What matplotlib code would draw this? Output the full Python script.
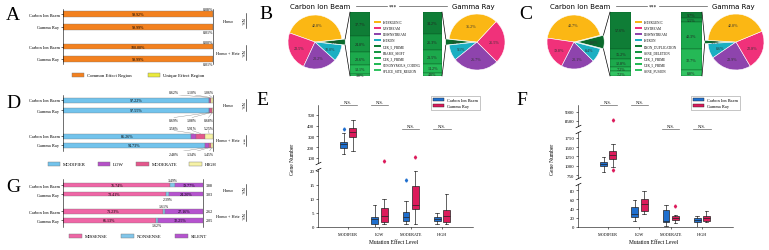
import numpy as np
import matplotlib
matplotlib.use("Agg")
from matplotlib import pyplot as plt
from matplotlib.patches import ConnectionPatch, Patch
from matplotlib.lines import Line2D
from matplotlib.transforms import blended_transform_factory

W, H = 769, 251
plt.rcParams['font.family'] = ['Liberation Serif', 'DejaVu Serif']
plt.rcParams['axes.linewidth'] = 0.4

# ---------------- data ----------------
groups = ['Carbon Ion Beam', 'Gamma Ray', 'Carbon Ion Beam', 'Gamma Ray']
group_names = ['Homo', 'Homo + Hete']

# A: effect regions (%)
region_names = ['Common Effect Region', 'Unique Effect Region']
region_common = [99.92, 99.99, 100.00, 99.99]
region_unique = [0.08, 0.01, 0.00, 0.01]
region_sig = ['N.S.', 'N.S.']

# D: impact level (%)
impact_names = ['MODIFIER', 'LOW', 'MODERATE', 'HIGH']
impact_modifier = [97.22, 97.55, 85.26, 94.73]
impact_low = [0.62, 0.69, 3.58, 2.48]
impact_moderate = [1.10, 1.08, 5.91, 1.34]
impact_high = [1.06, 0.68, 5.25, 1.45]
impact_sig = ['N.S.', '***']

# G: functional class (%)
func_names = ['MISSENSE', 'NONSENSE', 'SILENT']
func_missense = [76.74, 73.41, 71.23, 66.13]
func_nonsense = [3.49, 2.39, 1.61, 1.62]
func_silent = [19.77, 24.20, 27.16, 32.25]
func_sig = ['N.S.', 'N.S.']

# B / C: pies (INTERGENIC, UPSTREAM, DOWNSTREAM, INTRON, others)
pie_names = ['INTERGENIC', 'UPSTREAM', 'DOWNSTREAM', 'INTRON']
b_carbon_pie = [42.8, 23.5, 20.2, 10.0, 3.5]
b_gamma_pie = [35.2, 25.5, 26.7, 9.1, 3.5]
b_other_names = ['UTR_5_PRIME', 'FRAME_SHIFT', 'UTR_3_PRIME', 'SYNONYMOUS_CODING', 'SPLICE_SITE_REGION']
b_carbon_other = [37.7, 24.8, 20.6, 13.1, 3.8]
b_gamma_other = [34.2, 25.3, 21.5, 14.2, 4.8]

c_carbon_pie = [43.7, 19.8, 20.1, 8.4, 8.0]
c_gamma_pie = [42.8, 22.8, 23.9, 8.6, 1.9]
c_other_names = ['EXON_DUPLICATION', 'GENE_DELETION', 'UTR_3_PRIME', 'UTR_5_PRIME', 'GENE_FUSION']
c_carbon_other = [57.6, 15.2, 12.8, 7.2, 7.2]
c_gamma_other = [9.7, 5.5, 43.3, 32.7, 8.8]

# E / F: box summaries per effect level
levels = ['MODIFIER', 'LOW', 'MODERATE', 'HIGH']
e_carbon_lo = [137, 0, 1, 1]
e_carbon_q1 = [195, 1.1, 2.3, 2.3]
e_carbon_med = [230, 2.8, 3.5, 2.9]
e_carbon_q3 = [250, 3.6, 5.4, 3.7]
e_carbon_hi = [330, 8, 9.3, 5]
e_carbon_fl = [[370], [], [16.8], []]
e_gamma_lo = [165, 1, 1, 1]
e_gamma_q1 = [295, 1.9, 6.3, 1.9]
e_gamma_med = [338, 4, 7.9, 3.9]
e_gamma_q3 = [379, 6.8, 14.8, 6]
e_gamma_hi = [453, 10, 20, 11.8]
e_gamma_fl = [[], [75], [105], []]

f_carbon_lo = [830, 13.7, 1.4, 1]
f_carbon_q1 = [990, 22.3, 11.5, 10]
f_carbon_med = [1054, 28, 13.7, 15]
f_carbon_q3 = [1108, 42.5, 37.5, 20]
f_carbon_hi = [1235, 59, 47.6, 23]
f_carbon_fl = [[], [], [], []]
f_gamma_lo = [965, 28, 8, 10]
f_gamma_q1 = [1189, 35.3, 15.8, 13.7]
f_gamma_med = [1297, 49.7, 19.5, 18.7]
f_gamma_q3 = [1386, 60.5, 24.5, 23]
f_gamma_hi = [1586, 78.5, 26, 34]
f_gamma_fl = [[8550, 873], [], [44.7], []]

# ---------------- figure ----------------
fig = plt.figure(figsize=(W / 100, H / 100), dpi=100)


def fx(x):
    return x / W


def fy(y):
    return 1 - y / H


def px_axes(x0, y0, x1, y1):
    return fig.add_axes([fx(x0), fy(y1), (x1 - x0) / W, (y1 - y0) / H])


def letter(x, y, s):
    fig.text(fx(x), fy(y), s, fontsize=14, ha='center', va='center')


# ---- horizontal stacked percentage bars (A, D, G) ----
def bar_panel(ax, rows, series, colors, height, xmax=100):
    left = np.zeros(len(rows))
    parts = []
    for vals, col in zip(series, colors):
        vals = np.asarray(vals, dtype=float)
        ax.barh(rows, vals, left=left, height=height, color=col,
                edgecolor='#777777', linewidth=0.25)
        parts.append((left.copy(), vals))
        left = left + vals
    ax.set_xlim(0, xmax)
    ax.set_yticks(rows)
    ax.set_yticklabels(groups, fontsize=3.2)
    ax.tick_params(axis='y', length=1.5, width=0.4, pad=1)
    ax.set_xticks([])
    for s in ['top', 'bottom']:
        ax.spines[s].set_visible(False)
    return parts


def group_marks(ax, rows, sig, xg=228, xs=242):
    tr = blended_transform_factory(fig.transFigure, ax.transData)
    for k in range(2):
        y0, y1 = rows[2 * k], rows[2 * k + 1]
        ym = (y0 + y1) / 2
        ax.text(fx(xg), ym, group_names[k], transform=tr, ha='center', va='center', fontsize=3.2)
        ax.text(fx(xs), ym, sig[k], transform=tr, rotation=-90, ha='center', va='center', fontsize=3.2)
        ax.plot([fx(xs + 4)] * 2, [y0 - 0.1, y1 + 0.1], transform=tr, color='k', lw=0.4, clip_on=False)


def bar_legend(names, colors, cx, cy, ncol, spacing):
    handles = [Patch(facecolor=c, edgecolor='#777777', linewidth=0.3) for c in colors]
    fig.legend(handles, names, loc='center', bbox_to_anchor=(fx(cx), fy(cy)), ncol=ncol,
               frameon=False, fontsize=3.4, handlelength=2.6, handleheight=0.9,
               columnspacing=spacing, handletextpad=0.6)


# A
colA = ['#f3811f', '#eaea3c']
axA = px_axes(63, 10, 213, 65)
rowsA = [0, 1, 2.55, 3.5]
partsA = bar_panel(axA, rowsA, [region_common, region_unique], colA, 0.42)
axA.set_ylim(3.9, -0.4)
for i, r in enumerate(rowsA):
    axA.text(region_common[i] / 2, r, f'{region_common[i]:.2f}%', ha='center', va='center', fontsize=3)
    if i % 2 == 0:
        axA.text(100, r - 0.23, f'{region_unique[i]:.2f}%', ha='right', va='bottom', fontsize=3)
    else:
        axA.text(100, r + 0.23, f'{region_unique[i]:.2f}%', ha='right', va='top', fontsize=3)
group_marks(axA, rowsA, region_sig)
bar_legend(region_names, colA, 138, 76, 2, 3.5)
letter(13, 16, 'A')

# D
colD = ['#72c3ec', '#b650c8', '#e4578c', '#f6f2a6']
axD = px_axes(63, 96, 213, 152)
rowsD = [0, 1, 3.6, 4.5]
partsD = bar_panel(axD, rowsD, [impact_modifier, impact_low, impact_moderate, impact_high], colD, 0.5)
axD.set_ylim(5.1, -0.5)
label_x = [74, 86, 97]
for i, r in enumerate(rowsD):
    axD.text(impact_modifier[i] / 2, r, f'{impact_modifier[i]:.2f}%', ha='center', va='center', fontsize=3)
    above = (i % 2 == 0)
    ty = r - 0.55 if above else r + 0.75
    for j, (left, vals) in enumerate(partsD[1:]):
        cx = left[i] + vals[i] / 2
        axD.text(label_x[j], ty, f'{vals[i]:.2f}%', ha='center',
                 va='bottom' if above else 'top', fontsize=2.8)
        axD.plot([label_x[j], cx], [ty, r - 0.25 if above else r + 0.25], color='#777777', lw=0.25)
group_marks(axD, rowsD, impact_sig)
bar_legend(impact_names, colD, 132, 165, 4, 2.6)
letter(13, 103, 'D')

# G
colG = ['#ef66a6', '#82c6ea', '#b553cf']
axG = px_axes(63, 180, 203, 228)
rowsG = [0, 1, 2.9, 3.9]
partsG = bar_panel(axG, rowsG, [func_missense, func_nonsense, func_silent], colG, 0.55)
axG.set_ylim(4.67, -0.67)
for i, r in enumerate(rowsG):
    axG.text(func_missense[i] / 2, r, f'{func_missense[i]:.2f}%', ha='center', va='center', fontsize=3)
    sl_left = func_missense[i] + func_nonsense[i]
    axG.text(sl_left + func_silent[i] / 2, r, f'{func_silent[i]:.2f}%', ha='center', va='center', fontsize=3)
    nx = func_missense[i] + func_nonsense[i] / 2
    if i % 2 == 0:
        axG.text(nx, r - 0.3, f'{func_nonsense[i]:.2f}%', ha='center', va='bottom', fontsize=2.8)
    else:
        axG.text(nx, r + 0.3, f'{func_nonsense[i]:.2f}%', ha='center', va='top', fontsize=2.8)
    axG.text(102, r, f'{func_missense[i] / func_silent[i]:.2f}', ha='left', va='center', fontsize=3)
group_marks(axG, rowsG, func_sig)
bar_legend(func_names, colG, 138, 237, 3, 3.0)
letter(13, 188, 'G')

# ---- pies with breakdown bars (B, C) ----
pie_colors = ['#fbb714', '#f0317a', '#8e44ad', '#1bafc2']
other_wedge = '#0a6a2c'
greens = ['#0f7d36', '#159642', '#1ca94c', '#25b956', '#33c463']


def draw_pie(cx, cy, r, values, side):
    s = r * 1.3
    ax = px_axes(cx - s, cy - s, cx + s, cy + s)
    other, main = values[-1], list(values[:-1])
    if side == 'left':
        vals, cols = [other] + main, [other_wedge] + pie_colors
        start = -other * 3.6 / 2
    else:
        vals, cols = [other] + main[::-1], [other_wedge] + pie_colors[::-1]
        start = 180 - other * 3.6 / 2
    ex = 0.12
    ax.pie(vals, colors=cols, startangle=start, explode=[ex, 0, 0, 0, 0], autopct='%.1f%%',
           pctdistance=0.62, wedgeprops=dict(edgecolor='white', linewidth=0.4),
           textprops=dict(fontsize=3, color='#333333'))
    ax.set_xlim(-1.3, 1.3)
    ax.set_ylim(-1.3, 1.3)
    a = np.deg2rad(other * 3.6 / 2)
    sgn = 1 if side == 'left' else -1
    tips = [(sgn * (ex + np.cos(a)), np.sin(a)), (sgn * (ex + np.cos(a)), -np.sin(a))]
    return ax, tips


def draw_stack(x0, x1, values):
    ax = px_axes(x0, 13, x1, 77)
    vals = np.asarray(values, dtype=float)
    tops = 100 - np.concatenate([[0], np.cumsum(vals)[:-1]])
    ax.bar(np.zeros(len(vals)), vals, bottom=tops - vals, width=1, color=greens,
           edgecolor='#0a5a24', linewidth=0.3)
    for t, v in zip(tops, vals):
        ax.text(0, t - v / 2, f'{v:.1f}%', ha='center', va='center', fontsize=3, color='#222222')
    ax.set_xlim(-0.5, 0.5)
    ax.set_ylim(0, 100)
    ax.axis('off')
    return ax


def connect(ax_pie, tips, ax_bar, side):
    bx = 0 if side == 'left' else 1
    for tip, by in zip(tips, [1, 0]):
        con = ConnectionPatch(xyA=tip, coordsA=ax_pie.transData, xyB=(bx, by),
                              coordsB=ax_bar.transAxes, color='k', lw=0.5)
        fig.add_artist(con)


def pie_panel(x_off, carbon_pie, gamma_pie, other_names, carbon_other, gamma_other,
              lp, lb, rb, rp):
    axl, tl = draw_pie(lp[0] + x_off, 43, lp[1], carbon_pie, 'left')
    axb1 = draw_stack(lb[0] + x_off, lb[1] + x_off, carbon_other)
    connect(axl, tl, axb1, 'left')
    axb2 = draw_stack(rb[0] + x_off, rb[1] + x_off, gamma_other)
    axr, tr = draw_pie(rp[0] + x_off, 43, rp[1], gamma_pie, 'right')
    connect(axr, tr, axb2, 'right')
    handles = [Patch(facecolor=c) for c in pie_colors + greens]
    fig.legend(handles, pie_names + other_names, loc='upper left',
               bbox_to_anchor=(fx(lb[1] + x_off + 0.5), fy(18)), frameon=False, fontsize=2.4,
               handlelength=2.2, handleheight=0.8, labelspacing=0.6, handletextpad=0.6)
    tkw = dict(fontsize=5, family='DejaVu Sans', ha='center', va='center')
    fig.text(fx(320 + x_off), fy(7), 'Carbon Ion Beam', **tkw)
    fig.text(fx(473 + x_off), fy(7), 'Gamma Ray', **tkw)
    fig.text(fx(393 + x_off), fy(7), '***', fontsize=4, ha='center', va='center')
    for xa, xb in [(356, 387), (399, 447)]:
        fig.add_artist(Line2D([fx(xa + x_off), fx(xb + x_off)], [fy(7), fy(7)], color='#555555', lw=0.5))


pie_panel(0, b_carbon_pie, b_gamma_pie, b_other_names, b_carbon_other, b_gamma_other,
          (315, 27), (350, 370), (423, 442), (477, 28))
letter(266, 15, 'B')
pie_panel(260, c_carbon_pie, c_gamma_pie, c_other_names, c_carbon_other, c_gamma_other,
          (314, 27), (350, 371), (421, 442), (476, 28))
letter(526, 15, 'C')

# ---- box plots with broken y axis (E, F) ----
c_blue, c_red = '#1f6fce', '#dc1b5b'


def make_stats(lo, q1, med, q3, hi, fl):
    return [dict(whislo=a, q1=b, med=c, q3=d, whishi=e, fliers=f)
            for a, b, c, d, e, f in zip(lo, q1, med, q3, hi, fl)]


def box_panel(x0, x1, seg_px, seg_lim, seg_ticks, carbon, gamma, ns_y):
    axes = []
    pos = np.arange(len(levels))
    for k, ((y0, y1), lim, ticks) in enumerate(zip(seg_px, seg_lim, seg_ticks)):
        ax = px_axes(x0, y0, x1, y1)
        for stats, col, off in [(carbon, c_blue, -0.15), (gamma, c_red, 0.15)]:
            ax.bxp(stats, positions=pos + off, widths=0.22, patch_artist=True, manage_ticks=False,
                   boxprops=dict(facecolor=col, edgecolor='#222222', linewidth=0.5),
                   medianprops=dict(color='#222222', linewidth=0.5),
                   whiskerprops=dict(color='#222222', linewidth=0.5),
                   capprops=dict(color='#222222', linewidth=0.5),
                   flierprops=dict(marker='d', markersize=1.6, markerfacecolor=col,
                                   markeredgecolor=col, linestyle='none'))
        ax.set_xlim(-0.97, 4.0)
        ax.set_ylim(*lim)
        ax.set_yticks(ticks)
        ax.tick_params(axis='y', labelsize=3.5, length=1.5, width=0.4, pad=1)
        ax.spines['top'].set_visible(False)
        ax.spines['right'].set_visible(False)
        last = (k == len(seg_px) - 1)
        if last:
            ax.set_xticks(pos)
            ax.set_xticklabels(levels, fontsize=3)
            ax.tick_params(axis='x', length=1.5, width=0.4, pad=2)
        else:
            ax.set_xticks([])
            ax.spines['bottom'].set_visible(False)
        mk = dict(marker=[(-1, -0.5), (1, 0.5)], markersize=4, linestyle='none',
                  color='k', mec='k', mew=0.5, clip_on=False)
        if k > 0:
            ax.plot([0], [1], transform=ax.transAxes, **mk)
        if not last:
            ax.plot([0], [0], transform=ax.transAxes, **mk)
        axes.append(ax)
    top = axes[0]
    tr = blended_transform_factory(top.transData, fig.transFigure)
    for i, yy in enumerate(ns_y):
        top.plot([i - 0.28, i + 0.28], [fy(yy), fy(yy)], transform=tr, color='#666666', lw=0.5, clip_on=False)
        top.text(i, fy(yy - 0.5), 'N.S.', transform=tr, ha='center', va='bottom', fontsize=3.2)
    fig.text(fx(x0 - 26), fy((seg_px[0][0] + seg_px[-1][1]) / 2 - 8), 'Gene Number',
             rotation=90, ha='center', va='center', fontsize=4)
    fig.text(fx((x0 + x1) / 2 - 2), fy(243), 'Mutation Effect Level', ha='center', va='center', fontsize=4)
    handles = [Patch(facecolor=c_blue, edgecolor='#222222', linewidth=0.3),
               Patch(facecolor=c_red, edgecolor='#222222', linewidth=0.3)]
    fig.legend(handles, ['Carbon Ion Beam', 'Gamma Ray'], loc='upper left',
               bbox_to_anchor=(fx(x1 - 44), fy(95)), fontsize=3.2, frameon=True, fancybox=False,
               edgecolor='#999999', framealpha=1, handlelength=2.4, handleheight=0.8,
               borderpad=0.4, labelspacing=0.3).get_frame().set_linewidth(0.4)


e_carbon = make_stats(e_carbon_lo, e_carbon_q1, e_carbon_med, e_carbon_q3, e_carbon_hi, e_carbon_fl)
e_gamma = make_stats(e_gamma_lo, e_gamma_q1, e_gamma_med, e_gamma_q3, e_gamma_hi, e_gamma_fl)
box_panel(318, 473, [(106, 164), (170, 228)], [(53, 593), (0, 20.7)],
          [[100, 200, 300, 400, 500], [0, 5, 10, 15, 20]], e_carbon, e_gamma, [106, 106, 130, 130])
letter(262, 101, 'E')

f_carbon = make_stats(f_carbon_lo, f_carbon_q1, f_carbon_med, f_carbon_q3, f_carbon_hi, f_carbon_fl)
f_gamma = make_stats(f_gamma_lo, f_gamma_q1, f_gamma_med, f_gamma_q3, f_gamma_hi, f_gamma_fl)
box_panel(578, 733, [(106, 127), (133, 179), (185, 228)], [(8222, 9389), (669, 1912), (0, 93)],
          [[8500, 9000], [750, 1000, 1250, 1500, 1750], [0, 20, 40, 60, 80]],
          f_carbon, f_gamma, [106, 106, 130, 130])
letter(522, 101, 'F')

fig.savefig('out.png', dpi=100)
